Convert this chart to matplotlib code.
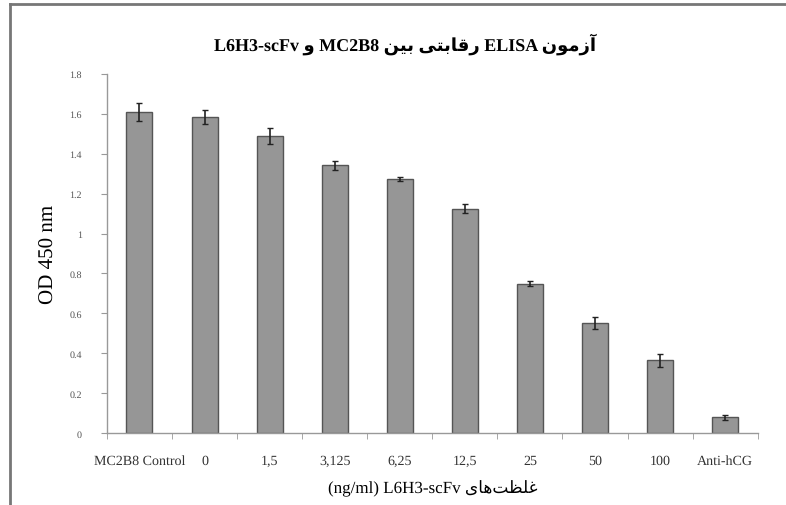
import matplotlib.pyplot as plt
from matplotlib.lines import Line2D

plt.rcParams['text.hinting'] = 'no_hinting'
plt.rcParams['text.hinting_factor'] = 1

# Data
categories = ['MC2B8 Control', '0', '1,5', '3,125', '6,25', '12,5', '25', '50', '100', 'Anti-hCG']
od_values = [1.61, 1.585, 1.49, 1.342, 1.274, 1.125, 0.748, 0.553, 0.364, 0.079]
od_errors = [0.046, 0.034, 0.04, 0.022, 0.01, 0.022, 0.013, 0.03, 0.032, 0.012]
y_ticks = [0, 0.2, 0.4, 0.6, 0.8, 1, 1.2, 1.4, 1.6, 1.8]
y_tick_labels = ['0', '0.2', '0.4', '0.6', '0.8', '1', '1.2', '1.4', '1.6', '1.8']

# Persian text in presentation forms, laid out left to right
title_fa = ('L6H3-scFv \uFEED MC2B8 \uFEE6\uFEF4\uFE91 '
            '\uFEF0\uFE98\uFE91\uFE8E\uFED7\uFEAD ELISA '
            '\uFEE5\uFEEE\uFEE3\uFEAF\uFE81')
xlabel_fa = '(ng/ml) L6H3-scFv \uFEEF\uFE8E\uFEEB\uFE96\uFEC8\uFEE0\uFECF'

fonts = ['Liberation Serif', 'DejaVu Sans']

fig = plt.figure(figsize=(7.86, 5.06), dpi=100)
ax = fig.add_axes([0.136, 0.142, 0.828, 0.71])

x = list(range(len(categories)))
ax.bar(x, od_values, width=0.4, color='#969696', edgecolor='#555555', linewidth=1.0,
       yerr=od_errors, error_kw=dict(ecolor='#222222', elinewidth=1.2, capsize=2.5, capthick=1.0))

ax.set_xlim(-0.5, len(categories) - 0.5)
ax.set_ylim(0, 1.8)
ax.set_yticks(y_ticks)
ax.set_yticklabels(y_tick_labels, family='Liberation Serif', fontsize=7, color='#555555')
ax.set_xticks(x)
ax.set_xticklabels(categories, family='Liberation Serif', fontsize=10, color='#333333',
                   va='baseline')
ax.set_xticks([i - 0.5 for i in range(len(categories) + 1)], minor=True)
ax.tick_params(axis='x', which='major', length=0, pad=22)
ax.tick_params(axis='x', which='minor', length=4, color='#999999', direction='out')
ax.tick_params(axis='y', length=4, color='#999999', direction='out', pad=14)

for side in ['top', 'right']:
    ax.spines[side].set_visible(False)
for side in ['left', 'bottom']:
    ax.spines[side].set_color('#999999')
    ax.spines[side].set_linewidth(1.0)

ax.set_ylabel('OD 450 nm', family='Liberation Serif', fontsize=15, labelpad=8)
ax.set_xlabel(xlabel_fa, family=fonts, fontsize=12, labelpad=9)
fig.text(0.515, 0.912, title_fa, family=fonts, fontsize=13, fontweight='bold',
         ha='center', va='center')

# partial outer frame (top and left edges)
fig.add_artist(Line2D([0.013, 1.0], [0.99, 0.99], transform=fig.transFigure,
                      color='#777777', linewidth=2))
fig.add_artist(Line2D([0.013, 0.013], [0.0, 0.99], transform=fig.transFigure,
                      color='#777777', linewidth=2))

fig.savefig('out.png', dpi=100, facecolor='white')
